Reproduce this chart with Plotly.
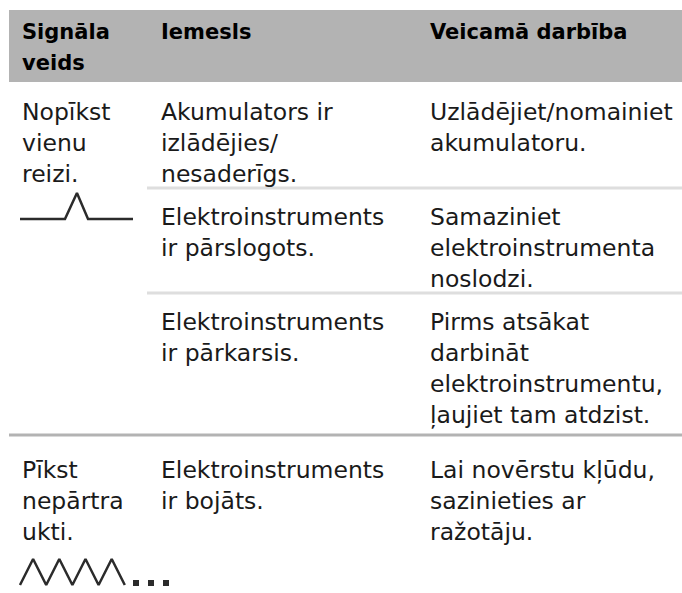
import plotly.graph_objects as go

W, H = 682, 593

# ---- table content ----
headers = [["Signāla", "veids"], ["Iemesls"], ["Veicamā darbība"]]

signal_types = [["Nopīkst", "vienu", "reizi."], ["Pīkst", "nepārtra", "ukti."]]

causes = [
    [["Akumulators ir", "izlādējies/", "nesaderīgs."],
     ["Elektroinstruments", "ir pārslogots."],
     ["Elektroinstruments", "ir pārkarsis."]],
    [["Elektroinstruments", "ir bojāts."]],
]

actions = [
    [["Uzlādējiet/nomainiet", "akumulatoru."],
     ["Samaziniet", "elektroinstrumenta", "noslodzi."],
     ["Pirms atsākat", "darbināt", "elektroinstrumentu,", "ļaujiet tam atdzist."]],
    [["Lai novērstu kļūdu,", "sazinieties ar", "ražotāju."]],
]

# ---- layout / style ----
FONT = "DejaVu Sans"
FS = 23.5
FS_BOLD = 21
col_x = [20, 159, 428]
line_h = 31
header_top, header_bot = 10, 82
table_left = 9
txt_color = "#1a1a1a"

fig = go.Figure()
shapes = []
annots = []

def text(x, y, s, bold=False):
    annots.append(dict(
        x=x, y=y, xref="x", yref="y", text=(f"<b>{s}</b>" if bold else s),
        showarrow=False, xanchor="left", yanchor="middle",
        font=dict(family=FONT, size=FS_BOLD if bold else FS,
                  color="#000" if bold else txt_color),
    ))

# header
shapes.append(dict(type="rect", x0=table_left, x1=W, y0=header_top, y1=header_bot,
                   fillcolor="#b3b3b3", line=dict(width=0), layer="below"))
for cx, lines in zip(col_x, headers):
    for i, s in enumerate(lines):
        text(cx, 32 + i * line_h, s, bold=True)

# body
block_starts = [112, 470]
sub_gap_top = 29      # separator -> first line center
sub_gap_bot = 14      # last line center -> separator
major_gap_bot = 20
for b, start in enumerate(block_starts):
    for i, s in enumerate(signal_types[b]):
        text(col_x[0], start + i * line_h, s)
    y = start
    nsub = len(causes[b])
    for k in range(nsub):
        c_lines = causes[b][k]
        a_lines = actions[b][k]
        for i, s in enumerate(c_lines):
            text(col_x[1], y + i * line_h, s)
        for i, s in enumerate(a_lines):
            text(col_x[2], y + i * line_h, s)
        n = max(len(c_lines), len(a_lines))
        last = y + (n - 1) * line_h
        if k < nsub - 1:
            sep = last + sub_gap_bot
            shapes.append(dict(type="line", x0=147, x1=W, y0=sep, y1=sep,
                               line=dict(color="#dedede", width=3)))
            y = sep + sub_gap_top
        else:
            if b < len(block_starts) - 1:
                sep = last + major_gap_bot
                shapes.append(dict(type="line", x0=table_left, x1=W, y0=sep, y1=sep,
                                   line=dict(color="#b3b3b3", width=3)))

# signal symbols (icon glyphs)
ink = "#2b2b2b"
# single beep: flat - peak - flat
px0, pw, pbase, ph = 20, 113, 219, 26
peak_shape_x = [0, 0.398, 0.504, 0.602, 1.0]
peak_shape_y = [0, 0, 1, 0, 0]
fig.add_trace(go.Scatter(
    x=[px0 + u * pw for u in peak_shape_x],
    y=[pbase - v * ph for v in peak_shape_y],
    mode="lines", line=dict(color=ink, width=2.5), hoverinfo="skip"))

# continuous beep: zigzag + dots
zx0, zstep, zbase, zh = 20, 13.1, 585, 26
zig_n = 8
fig.add_trace(go.Scatter(
    x=[zx0 + k * zstep for k in range(zig_n + 1)],
    y=[zbase - (zh if k % 2 else 0) for k in range(zig_n + 1)],
    mode="lines", line=dict(color=ink, width=2.5), hoverinfo="skip"))
dot_x0, dot_step = 136, 15
fig.add_trace(go.Scatter(
    x=[dot_x0 + k * dot_step for k in range(3)], y=[583] * 3,
    mode="markers", marker=dict(symbol="square", size=6, color=ink),
    hoverinfo="skip"))

fig.update_layout(
    width=W, height=H, margin=dict(l=0, r=0, t=0, b=0),
    paper_bgcolor="white", plot_bgcolor="white", showlegend=False,
    xaxis=dict(range=[0, W], visible=False, fixedrange=True),
    yaxis=dict(range=[H, 0], visible=False, fixedrange=True),
    shapes=shapes, annotations=annots,
)
fig.write_html("out.html", config={"displayModeBar": False},
               post_script="document.body.style.margin='0';document.body.style.overflow='hidden';")
